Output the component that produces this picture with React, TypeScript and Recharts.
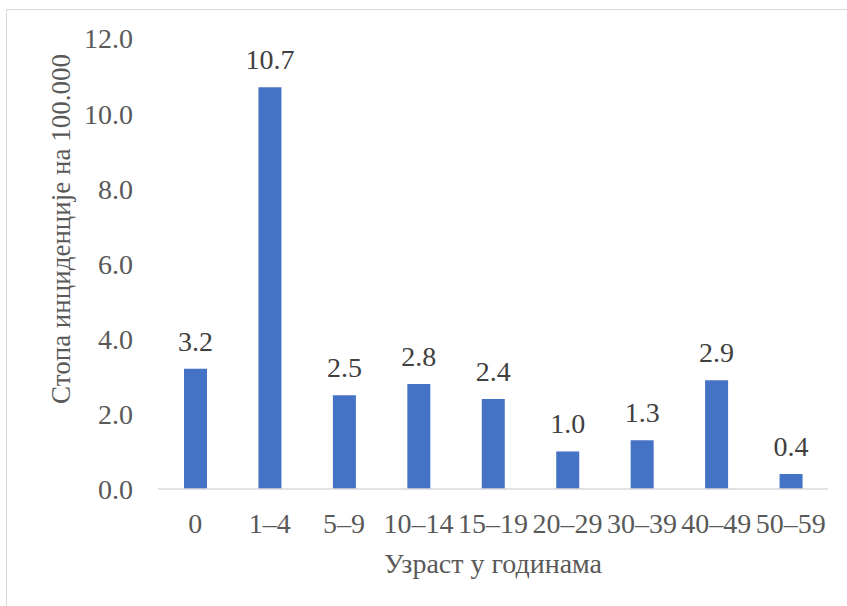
import React from 'react';
import { BarChart, Bar, XAxis, YAxis, LabelList, Label, Customized } from 'recharts';

const categories = ['0', '1–4', '5–9', '10–14', '15–19', '20–29', '30–39', '40–49', '50–59'];
const rates = [3.2, 10.7, 2.5, 2.8, 2.4, 1.0, 1.3, 2.9, 0.4];
const yTicks = [0, 2, 4, 6, 8, 10, 12];
const xTitle = 'Узраст у годинама';
const yTitle = 'Стопа инциденције на 100.000';

const data = categories.map((c, i) => ({ cat: c, value: rates[i] }));

const FONT = "Tinos, 'Liberation Serif', 'Times New Roman', 'DejaVu Serif', serif";

const YTitle = () => (
  <text
    x={61}
    y={229}
    transform="rotate(-90 61 229)"
    textAnchor="middle"
    dominantBaseline="central"
    style={{ fontFamily: FONT, fontSize: 27, fill: '#595959' }}
  >
    {yTitle}
  </text>
);

export default function App() {
  return (
    <div style={{ position: 'absolute', left: 0, top: 0, width: 847, height: 606, fontFamily: FONT }}>
      <div
        style={{
          position: 'absolute',
          left: 6,
          top: 9,
          width: 841,
          height: 597,
          boxSizing: 'border-box',
          borderLeft: '1px solid #D9D9D9',
          borderTop: '1px solid #D9D9D9',
        }}
      />
      <div style={{ position: 'absolute', left: 0, top: 0 }}>
        <BarChart
          width={847}
          height={606}
          data={data}
          margin={{ top: 38.5, right: 19, bottom: 0, left: 58 }}
          barCategoryGap={0}
          style={{ fontFamily: FONT }}
        >
          <XAxis
            dataKey="cat"
            interval={0}
            height={117}
            tickLine={false}
            tickSize={6}
            tickMargin={18}
            axisLine={{ stroke: '#D9D9D9', strokeWidth: 1.5 }}
            tick={{ fontSize: 28, fill: '#595959', style: { fontFamily: FONT } }}
          >
            <Label
              value={xTitle}
              position="insideBottom"
              offset={33}
              style={{ fontFamily: FONT, fontSize: 28, fill: '#595959' }}
            />
          </XAxis>
          <YAxis
            width={100}
            domain={[0, 12]}
            ticks={yTicks}
            interval={0}
            tickLine={false}
            axisLine={false}
            tickSize={6}
            tickMargin={19}
            tickFormatter={(v: number) => v.toFixed(1)}
            tick={{ fontSize: 28, fill: '#595959', style: { fontFamily: FONT } }}
          />
          <Bar dataKey="value" fill="#4472C4" barSize={23} isAnimationActive={false}>
            <LabelList
              dataKey="value"
              position="top"
              offset={18}
              formatter={(v: number) => v.toFixed(1)}
              style={{ fontFamily: FONT, fontSize: 28, fill: '#404040' }}
            />
          </Bar>
          <Customized component={YTitle} />
        </BarChart>
      </div>
    </div>
  );
}
